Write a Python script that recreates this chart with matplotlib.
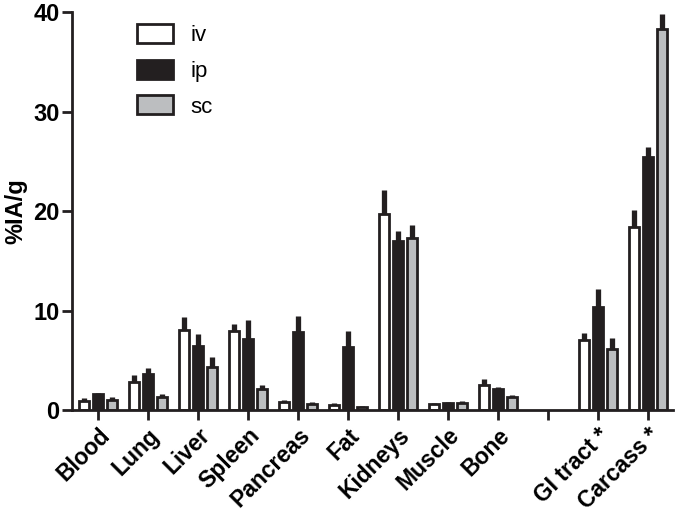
import numpy as np
import matplotlib
matplotlib.use('Agg')
import matplotlib.pyplot as plt

plt.rcParams['font.family'] = ['Liberation Sans', 'DejaVu Sans']
plt.rcParams['font.weight'] = 'bold'

# 데이터 (%IA/g, 평균 및 상단 오차)
organs = ['Blood', 'Lung', 'Liver', 'Spleen', 'Pancreas', 'Fat', 'Kidneys',
          'Muscle', 'Bone', '', 'GI tract *', 'Carcass *']
iv_mean = [0.9, 2.8, 8.0, 7.9, 0.8, 0.5, 19.7, 0.6, 2.5, np.nan, 7.0, 18.4]
iv_err = [0.3, 0.7, 1.3, 0.7, 0.2, 0.2, 2.4, 0.15, 0.6, np.nan, 0.7, 1.7]
ip_mean = [1.6, 3.6, 6.4, 7.1, 7.8, 6.3, 17.0, 0.7, 2.1, np.nan, 10.4, 25.4]
ip_err = [0.15, 0.6, 1.2, 1.9, 1.7, 1.6, 1.0, 0.1, 0.25, np.nan, 1.8, 1.0]
sc_mean = [1.0, 1.3, 4.3, 2.1, 0.6, 0.3, 17.3, 0.7, 1.3, np.nan, 6.1, 38.3]
sc_err = [0.3, 0.3, 1.0, 0.45, 0.2, 0.1, 1.3, 0.2, 0.25, np.nan, 1.1, 1.5]

series = [('iv', iv_mean, iv_err, 'white'),
          ('ip', ip_mean, ip_err, '#231f20'),
          ('sc', sc_mean, sc_err, '#bcbec0')]

fig = plt.figure(figsize=(6.75, 5.28), dpi=100)
ax = fig.add_axes([0.107, 0.2235, 0.89, 0.7535])

x = np.arange(len(organs))
offsets = [-0.28, 0.0, 0.28]
width = 0.19
edge = '#231f20'

for (name, mean, err, color), off in zip(series, offsets):
    mean = np.array(mean)
    err = np.array(err)
    ax.vlines(x + off, mean, mean + err, color=edge, linewidth=3.8, zorder=1)
    ax.bar(x + off, mean, width=width, color=color, edgecolor=edge,
           linewidth=2.0, label=name, zorder=2)

ax.set_xlim(-0.52, 11.5)
ax.set_ylim(0, 40)
ax.set_yticks([0, 10, 20, 30, 40])
ax.set_xticks(x)
ax.set_xticklabels(organs, rotation=45, ha='right', rotation_mode='anchor',
                   fontsize=16.5, fontweight='bold')
ax.tick_params(axis='y', labelsize=17, width=2, length=7, color=edge, pad=2)
ax.tick_params(axis='x', width=2, length=7, color=edge, pad=3)
for lab in ax.get_yticklabels():
    lab.set_fontweight('bold')
ax.set_ylabel('%IA/g', fontsize=17, fontweight='bold', labelpad=4)

for s in ['top', 'right']:
    ax.spines[s].set_visible(False)
for s in ['left', 'bottom']:
    ax.spines[s].set_linewidth(2)
    ax.spines[s].set_color(edge)

leg = ax.legend(loc='upper left', bbox_to_anchor=(0.075, 1.02), frameon=False,
                fontsize=16, handlelength=1.6, handleheight=0.95,
                labelspacing=0.6, handletextpad=0.8)
for t in leg.get_texts():
    t.set_fontweight('normal')

fig.savefig('out.png', dpi=100)
